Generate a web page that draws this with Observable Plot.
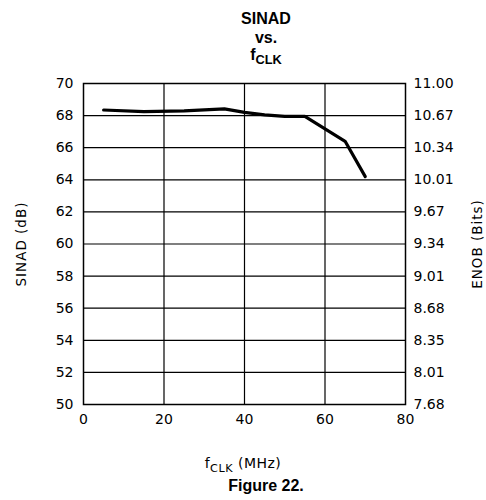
<!DOCTYPE html>
<html>
<head>
<meta charset="utf-8">
<script src="https://cdn.jsdelivr.net/npm/d3@7"></script>
<script src="https://cdn.jsdelivr.net/npm/@observablehq/plot@0.6"></script>
<style>
  html, body { margin: 0; padding: 0; background: #fff; }
  #wrap { position: relative; width: 486px; height: 500px; overflow: hidden; }
  #chart { position: absolute; left: 0; top: 0; }
  .ttl { position: absolute; left: 166px; width: 200px; text-align: center;
         font-family: "Liberation Sans", Arial, sans-serif; font-weight: bold; font-size: 16px; color: #000; line-height: normal; }
  .ttl sub, .xl sub { font-size: 0.8em; vertical-align: -0.35em; line-height: 0; }
  .xl { position: absolute; left: 143px; width: 200px; text-align: center; letter-spacing: 0.5px;
        font-family: "DejaVu Sans", sans-serif; font-size: 14px; color: #000; line-height: 15px; }
</style>
</head>
<body>
<div id="wrap">
  <div id="chart"></div>
  <div class="ttl" style="top:10px">SINAD</div>
  <div class="ttl" style="top:28.5px">vs.</div>
  <div class="ttl" style="top:46px">f<sub>CLK</sub></div>
  <div class="xl" style="top:456px">f<sub>CLK</sub> (MHz)</div>
  <div class="ttl" style="top:477px;font-size:16px">Figure 22.</div>
</div>
<script>
// Data
const fclk  = [5, 15, 25, 35, 40, 45, 50, 55, 65, 70];
const sinad = [68.35, 68.25, 68.3, 68.42, 68.2, 68.05, 67.95, 67.95, 66.4, 64.2];

const xTicks = [0, 20, 40, 60, 80];
const yTicks = [50, 52, 54, 56, 58, 60, 62, 64, 66, 68, 70];
const enobLabels = ["7.68", "8.01", "8.35", "8.68", "9.01", "9.34", "9.67", "10.01", "10.34", "10.67", "11.00"];

const data = fclk.map((f, i) => ({f, s: sinad[i]}));
const enobMap = new Map(yTicks.map((t, i) => [t, enobLabels[i]]));

const font = "DejaVu Sans, sans-serif";

const chart = Plot.plot({
  width: 486,
  height: 500,
  marginLeft: 83,
  marginRight: 81,
  marginTop: 83,
  marginBottom: 96,
  style: {fontFamily: font, fontSize: "14px", color: "#000", background: "#fff"},
  x: {domain: [0, 80]},
  y: {domain: [50, 70]},
  marks: [
    Plot.gridY(yTicks, {stroke: "#000", strokeOpacity: 1, strokeWidth: 1.2}),
    Plot.gridX([20, 40, 60], {stroke: "#000", strokeOpacity: 1, strokeWidth: 1.2}),
    Plot.frame({stroke: "#000", strokeWidth: 1.5}),
    Plot.axisY(yTicks, {anchor: "left", tickSize: 0, tickPadding: 10, label: null, fontSize: 14}),
    Plot.axisY(yTicks, {anchor: "right", tickSize: 0, tickPadding: 8, label: null, fontSize: 14,
                        tickFormat: d => enobMap.get(d)}),
    Plot.axisX(xTicks, {anchor: "bottom", tickSize: 0, tickPadding: 10, label: null, fontSize: 14}),
    Plot.text(["SINAD (dB)"], {frameAnchor: "left", dx: -62, rotate: -90, textAnchor: "middle",
                               fontSize: 13.5, fill: "#000"}),
    Plot.text(["ENOB (Bits)"], {frameAnchor: "right", dx: 72, rotate: -90, textAnchor: "middle",
                                fontSize: 13.5, fill: "#000"}),
    Plot.line(data, {x: "f", y: "s", stroke: "#000", strokeWidth: 3.2, strokeLinejoin: "round"})
  ]
});
chart.querySelectorAll("text").forEach(t => {
  if (t.textContent === "SINAD (dB)" || t.textContent === "ENOB (Bits)") t.style.letterSpacing = "1px";
});
document.getElementById("chart").appendChild(chart);
</script>
</body>
</html>
